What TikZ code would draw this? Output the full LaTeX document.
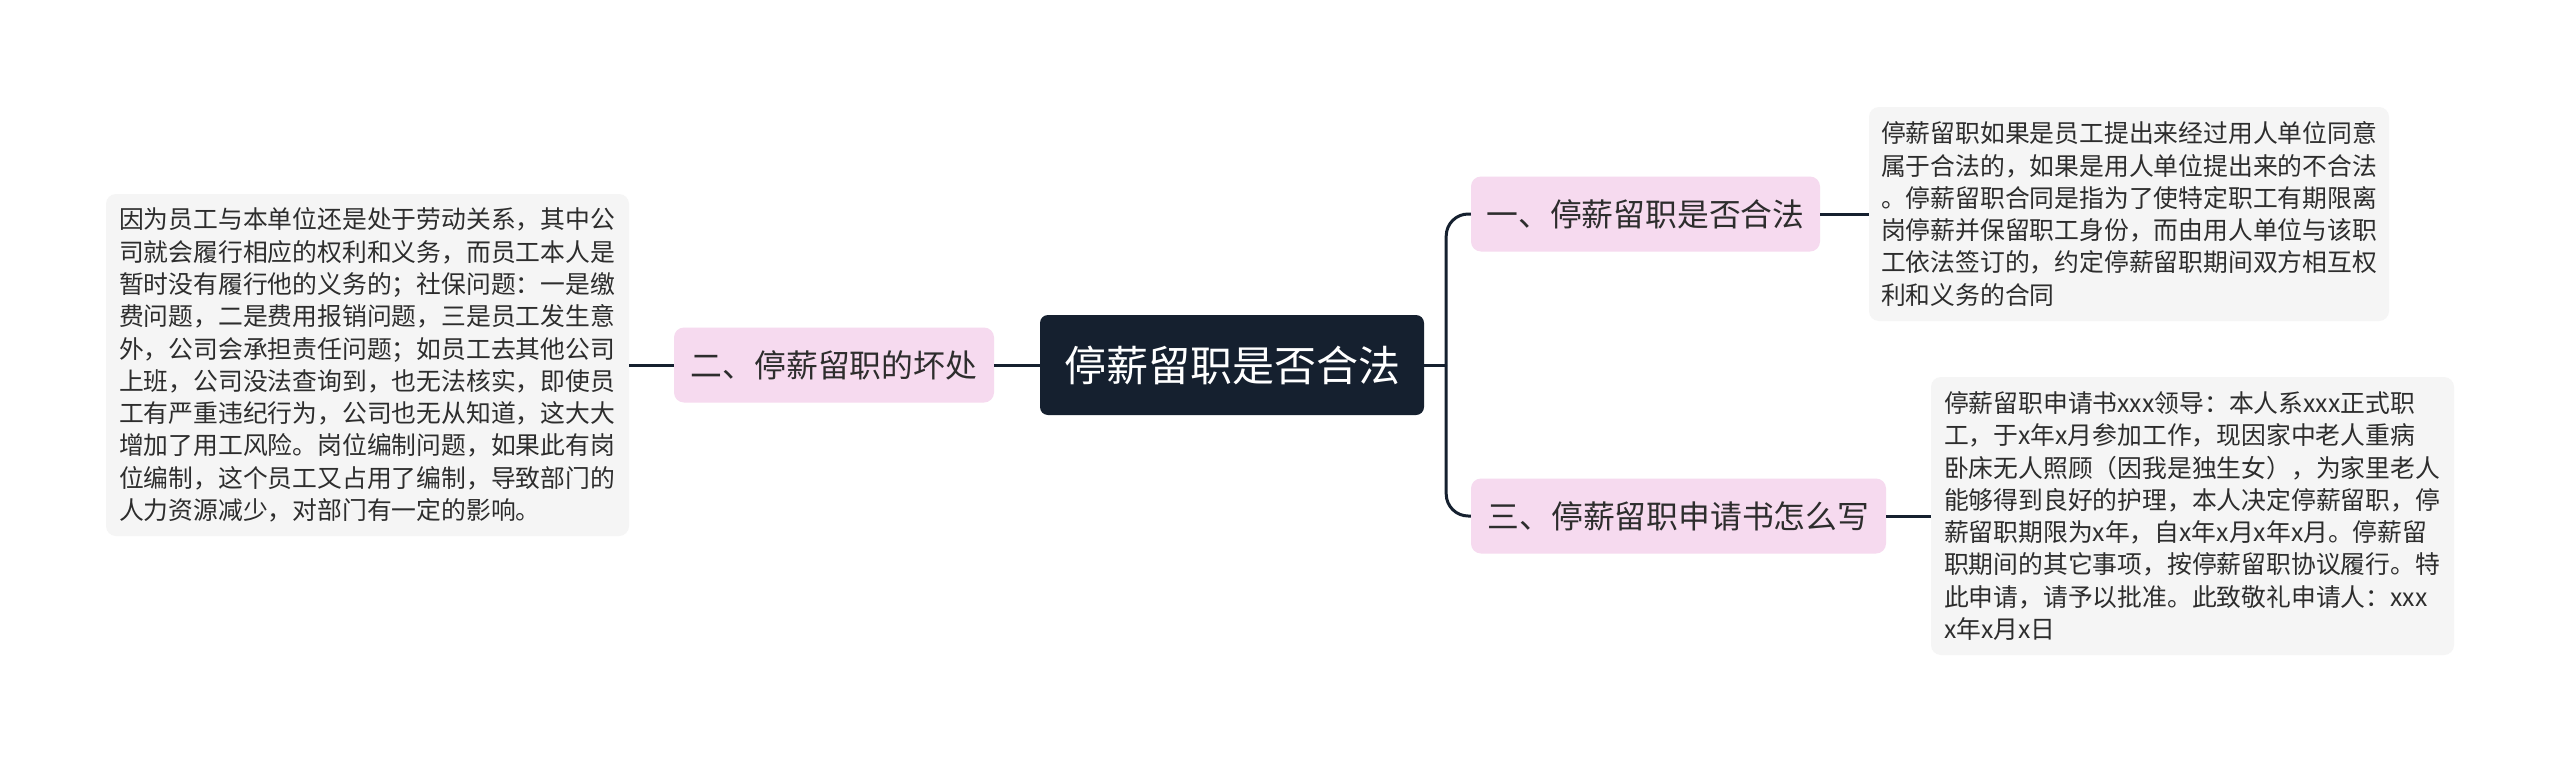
\documentclass[tikz,border=0pt]{standalone}
\usepackage{fontspec}
\setmainfont{Noto Sans CJK SC}
\definecolor{cdark}{RGB}{21,32,47}
\definecolor{cpink}{RGB}{246,218,239}
\definecolor{cgray}{RGB}{245,245,245}
\definecolor{ctext}{RGB}{45,45,45}
\tikzset{
  centralbox/.style={fill=cdark, rounded corners=8pt, text=white, font=\fontsize{42}{50}\selectfont, minimum width=384pt, minimum height=100pt, inner sep=0pt},
  subbox/.style={fill=cpink, rounded corners=10pt, text=ctext, font=\fontsize{31.8}{38}\selectfont, minimum height=75pt, inner sep=0pt},
  bodybox/.style={fill=cgray, rounded corners=10pt, text=ctext, font=\fontsize{24.8}{32.3}\selectfont, align=left, inner ysep=0pt, inner xsep=13pt, text width=497pt},
  link/.style={draw=cdark, line width=3pt}
}
\begin{document}
\begin{tikzpicture}[x=1pt,y=-1pt]
\useasboundingbox[fill=white] (0,0) rectangle (2560,763);
\node[centralbox] (c) at (1232,365) {停薪留职是否合法};
\node[subbox, minimum width=349pt] (n1) at (1645.5,214) {一、停薪留职是否合法};
\node[subbox, minimum width=320pt] (n2) at (834,365) {二、停薪留职的坏处};
\node[subbox, minimum width=415pt] (n3) at (1678.5,516) {三、停薪留职申请书怎么写};
\node[bodybox, minimum height=342pt] (t2) at (367.5,365) {因为员工与本单位还是处于劳动关系，其中公\\司就会履行相应的权利和义务，而员工本人是\\暂时没有履行他的义务的；社保问题：一是缴\\费问题，二是费用报销问题，三是员工发生意\\外，公司会承担责任问题；如员工去其他公司\\上班，公司没法查询到，也无法核实，即使员\\工有严重违纪行为，公司也无从知道，这大大\\增加了用工风险。岗位编制问题，如果此有岗\\位编制，这个员工又占用了编制，导致部门的\\人力资源减少，对部门有一定的影响。};
\node[bodybox, minimum height=214pt, text width=496pt, inner xsep=12pt] (t1) at (2129,214) {停薪留职如果是员工提出来经过用人单位同意\\属于合法的，如果是用人单位提出来的不合法\\。停薪留职合同是指为了使特定职工有期限离\\岗停薪并保留职工身份，而由用人单位与该职\\工依法签订的，约定停薪留职期间双方相互权\\利和义务的合同};
\node[bodybox, minimum height=278pt] (t3) at (2192.5,516) {停薪留职申请书xxx领导：本人系xxx正式职\\工，于x年x月参加工作，现因家中老人重病\\卧床无人照顾（因我是独生女），为家里老人\\能够得到良好的护理，本人决定停薪留职，停\\薪留职期限为x年，自x年x月x年x月。停薪留\\职期间的其它事项，按停薪留职协议履行。特\\此申请，请予以批准。此致敬礼申请人：xxx\\x年x月x日};
\draw[link] (c.east) -- ++(22,0) coordinate (j);
\draw[link, rounded corners=22pt] (j) |- (n1.west);
\draw[link, rounded corners=22pt] (j) |- (n3.west);
\draw[link] (c.west) -- (n2.east);
\draw[link] (n2.west) -- (t2.east);
\draw[link] (n1.east) -- (t1.west);
\draw[link] (n3.east) -- (t3.west);
\end{tikzpicture}
\end{document}
